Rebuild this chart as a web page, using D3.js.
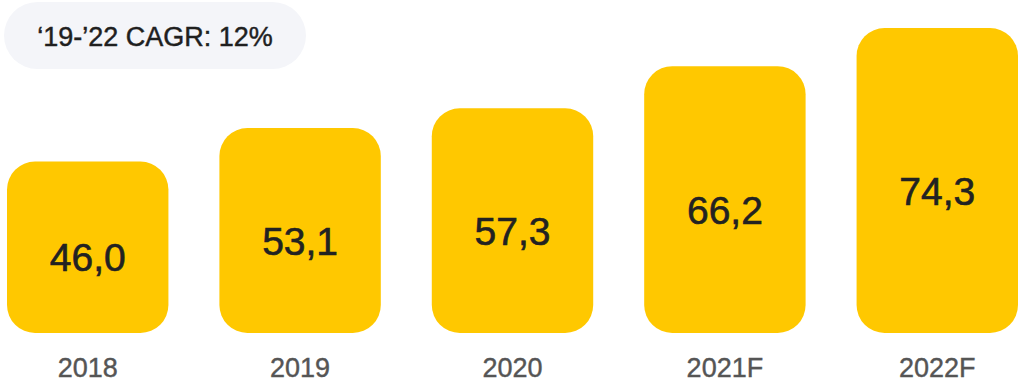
<!DOCTYPE html>
<html>
<head>
<meta charset="utf-8">
<script src="https://cdn.jsdelivr.net/npm/d3@7"></script>
<style>
  html, body { margin: 0; padding: 0; background: #ffffff; }
  svg { display: block; font-family: "Liberation Sans", Arial, Helvetica, sans-serif; }
</style>
</head>
<body>
<svg id="chart" width="1025" height="390"></svg>
<script>
// Yearly values, 2021–2022 are forecasts
const years = ["2018", "2019", "2020", "2021F", "2022F"];
const values = [46.0, 53.1, 57.3, 66.2, 74.3];
const badgeText = "\u201819-\u201922 CAGR: 12%";

const svg = d3.select("#chart");

const x = d3.scaleBand()
  .domain(years)
  .range([7, 1018])
  .paddingInner(0.24)
  .paddingOuter(0);

// Baseline of the bars sits at y=333; the scale does not start at zero
const y = d3.scaleLinear()
  .domain([9.7, 74.3])
  .range([333, 28]);

const fmt = v => d3.format(".1f")(v).replace(".", ",");

// CAGR badge
const badge = svg.append("g");
badge.append("rect")
  .attr("x", 4).attr("y", 2)
  .attr("width", 302).attr("height", 67)
  .attr("rx", 33.5).attr("ry", 33.5)
  .attr("fill", "#f4f5f9");
badge.append("text")
  .attr("x", 155).attr("y", 46)
  .attr("text-anchor", "middle")
  .attr("font-size", 27)
  .attr("fill", "#1f1f1f")
  .attr("stroke", "#1f1f1f")
  .attr("stroke-width", 0.45)
  .text(badgeText);

const data = years.map((yr, i) => ({ year: yr, value: values[i] }));

const bars = svg.append("g").selectAll("g")
  .data(data)
  .join("g");

bars.append("rect")
  .attr("x", d => x(d.year))
  .attr("y", d => y(d.value))
  .attr("width", x.bandwidth())
  .attr("height", d => y.range()[0] - y(d.value))
  .attr("rx", 28).attr("ry", 28)
  .attr("fill", "#ffc800");

bars.append("text")
  .attr("x", d => x(d.year) + x.bandwidth() / 2)
  .attr("y", d => (y(d.value) + y.range()[0]) / 2 + 24)
  .attr("text-anchor", "middle")
  .attr("font-size", 39)
  .attr("fill", "#222222")
  .attr("stroke", "#222222")
  .attr("stroke-width", 0.6)
  .text(d => fmt(d.value));

// Category axis labels
const xAxis = d3.axisBottom(x).tickSize(0).tickPadding(0);
const axisG = svg.append("g")
  .attr("transform", "translate(0,355)")
  .call(xAxis);
axisG.select(".domain").remove();
axisG.selectAll("text")
  .attr("font-family", "'Liberation Sans', Arial, Helvetica, sans-serif")
  .attr("font-size", 27)
  .attr("fill", "#555555")
  .attr("stroke", "#555555")
  .attr("stroke-width", 0.4)
  .attr("dy", "0.8em");
</script>
</body>
</html>
